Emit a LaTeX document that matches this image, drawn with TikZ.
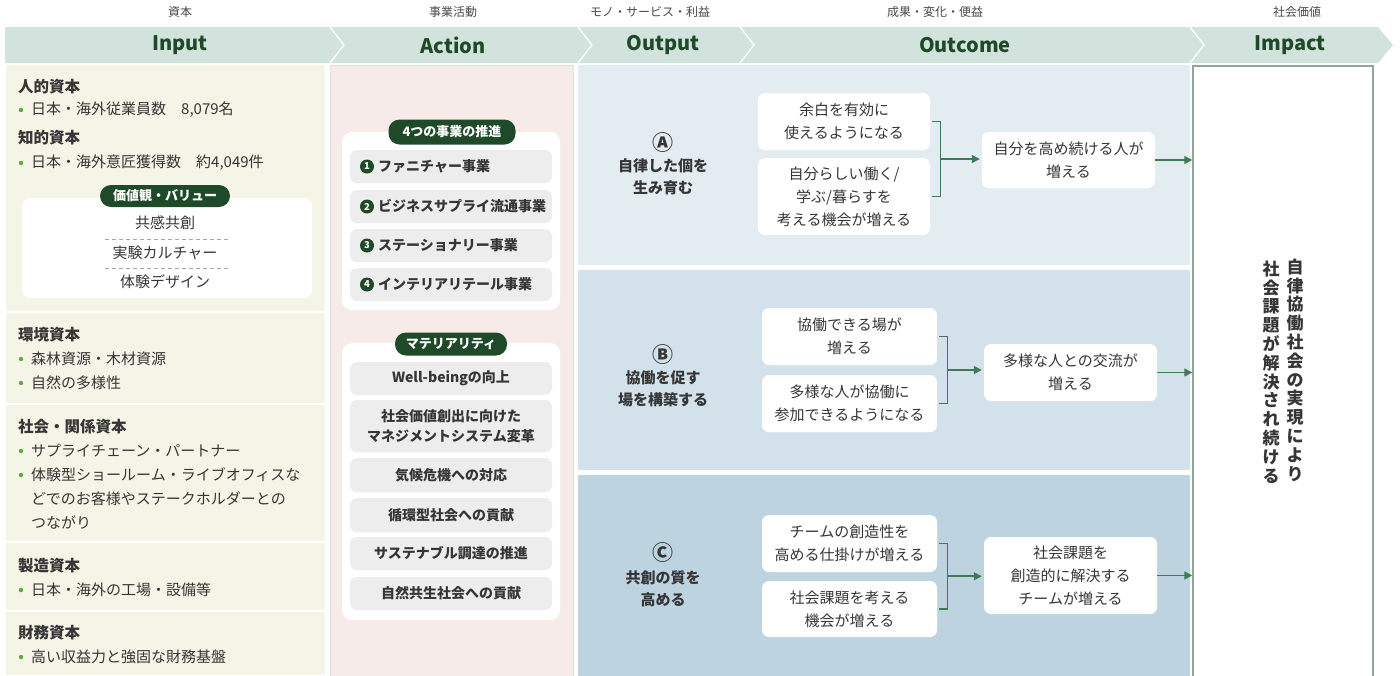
\documentclass[tikz,border=0pt]{standalone}
\usepackage{fontspec}
\setmainfont{Noto Sans CJK JP}
\usetikzlibrary{arrows.meta,calc}
\definecolor{hdrband}{HTML}{D2E3DD}
\definecolor{dgreen}{HTML}{1E4A2A}
\definecolor{agreen}{HTML}{3F7A55}
\definecolor{inbg}{HTML}{F4F4E7}
\definecolor{actbg}{HTML}{F6EBE9}
\definecolor{bandA}{HTML}{E3ECF0}
\definecolor{bandB}{HTML}{D3E2EA}
\definecolor{bandC}{HTML}{BDD4E0}
\definecolor{itemgray}{HTML}{EDEDED}
\definecolor{txt}{HTML}{363636}
\definecolor{bul}{HTML}{5DAA3F}
\definecolor{impbd}{HTML}{8FA596}
\tikzset{
  toplbl/.style={font=\fontsize{12}{14}\selectfont, text=txt!90, inner sep=0},
  hdr/.style={font=\fontsize{20}{22}\selectfont\bfseries, text=dgreen, inner sep=0},
  intitle/.style={anchor=west, font=\fontsize{15.5}{18}\selectfont\bfseries, text=txt, inner sep=0},
  initem/.style={anchor=west, font=\fontsize{15}{18}\selectfont, text=txt, inner sep=0},
  valtxt/.style={font=\fontsize{15}{18}\selectfont, text=txt, inner sep=0},
  pill/.style={fill=dgreen, rounded corners=11, text=white, font=\fontsize{13}{15}\selectfont\bfseries, inner sep=0},
  itembox/.style={fill=itemgray, rounded corners=7},
  acttxt/.style={font=\fontsize{14}{20}\selectfont\bfseries, text=txt, inner sep=0, align=center},
  numc/.style={circle, fill=dgreen, text=white, font=\fontsize{9.5}{9.5}\selectfont\bfseries, inner sep=0, minimum size=14},
  obox/.style={fill=white, rounded corners=7, align=center, font=\fontsize{15}{23}\selectfont, text=txt, inner sep=0},
  outlbl/.style={align=center, font=\fontsize{15}{22}\selectfont\bfseries, text=txt, inner sep=0},
  circl/.style={font=\fontsize{21}{22}\selectfont\bfseries, text=txt, inner sep=0},
  brk/.style={draw=agreen, line width=1.2},
  arr/.style={draw=agreen, line width=1.6, -{Triangle[length=8,width=8]}},
  vtext/.style={align=center, font=\fontsize{17}{18.8}\selectfont\bfseries, text=txt, inner sep=0},
}
\begin{document}
\begin{tikzpicture}[x=1pt,y=-1pt]
\useasboundingbox (0,0) rectangle (1400,675);
\fill[white] (0,0) rectangle (1400,675);
% top labels
\node[toplbl] (t1) at (180,12) {資本};
\node[toplbl] (t2) at (453,12) {事業活動};
\node[toplbl] (t3) at (650,12) {モノ・サービス・利益};
\node[toplbl] (t4) at (935,12) {成果・変化・便益};
\node[toplbl] (t5) at (1297,12) {社会価値};
% header band
\fill[hdrband] (5,27) -- (1378,27) -- (1393,45) -- (1378,63) -- (5,63) -- cycle;
\foreach \xx in {330,578,740,1190} {
  \draw[white, line width=1.3] (\xx,27) -- (\xx+14,45) -- (\xx,63);
}
\node[hdr] (h1) at (180,45) {Input};
\node[hdr] (h2) at (453,45) {Action};
\node[hdr] (h3) at (663,45) {Output};
\node[hdr] (h4) at (965,45) {Outcome};
\node[hdr] (h5) at (1290,45) {Impact};
% input column
\fill[inbg] (6,65) rectangle (325,675);
\foreach \yy in {312,404,542,611} { \draw[white, line width=2] (6,\yy) -- (325,\yy); }
\node[intitle] (i1) at (18,87) {人的資本};
\fill[bul] (21,110) circle (2.2);
\node[initem] (i1a) at (31,110) {日本・海外従業員数　8,079名};
\node[intitle] (i2) at (18,138) {知的資本};
\fill[bul] (21,163) circle (2.2);
\node[initem] (i2a) at (31,163) {日本・海外意匠獲得数　約4,049件};
\fill[white] (22,198) [rounded corners=8] rectangle (312,298);
\node[pill, minimum width=130, minimum height=22] (vp) at (165,196) {価値観・バリュー};
\node[valtxt] (v1) at (165,223) {共感共創};
\draw[gray!70, dash pattern=on 4pt off 3pt] (105,239) -- (228,239);
\node[valtxt] (v2) at (165,253) {実験カルチャー};
\draw[gray!70, dash pattern=on 4pt off 3pt] (105,268) -- (228,268);
\node[valtxt] (v3) at (165,282) {体験デザイン};
\node[intitle] (i3) at (18,335) {環境資本};
\fill[bul] (21,359) circle (2.2);
\node[initem] (i3a) at (31,359) {森林資源・木材資源};
\fill[bul] (21,383) circle (2.2);
\node[initem] (i3b) at (31,383) {自然の多様性};
\node[intitle] (i4) at (18,427) {社会・関係資本};
\fill[bul] (21,451) circle (2.2);
\node[initem] (i4a) at (31,451) {サプライチェーン・パートナー};
\fill[bul] (21,475) circle (2.2);
\node[initem] (i4b) at (31,475) {体験型ショールーム・ライブオフィスな};
\node[initem] (i4c) at (31,499) {どでのお客様やステークホルダーとの};
\node[initem] (i4d) at (31,523) {つながり};
\node[intitle] (i5) at (18,566) {製造資本};
\fill[bul] (21,590) circle (2.2);
\node[initem] (i5a) at (31,590) {日本・海外の工場・設備等};
\node[intitle] (i6) at (18,633) {財務資本};
\fill[bul] (21,657) circle (2.2);
\node[initem] (i6a) at (31,657) {高い収益力と強固な財務基盤};
% action column
\filldraw[fill=actbg, draw=gray!25] (330,65) rectangle (573,677);
\fill[white] (342,132) [rounded corners=10] rectangle (560,310);
\node[pill, minimum width=127, minimum height=25] (p1) at (452,132) {4つの事業の推進};
\foreach \ya/\yb in {150/183,190/223,229/262,268/301} { \fill[itembox] (350,\ya) rectangle (552,\yb); }
\node[numc] (n1) at (367,166.5) {1};
\node[acttxt, anchor=west] (a1t) at (378,166.5) {ファニチャー事業};
\node[numc] (n2) at (367,206.5) {2};
\node[acttxt, anchor=west] (a2t) at (378,206.5) {ビジネスサプライ流通事業};
\node[numc] (n3) at (367,245.5) {3};
\node[acttxt, anchor=west] (a3t) at (378,245.5) {ステーショナリー事業};
\node[numc] (n4) at (367,284.5) {4};
\node[acttxt, anchor=west] (a4t) at (378,284.5) {インテリアリテール事業};
\fill[white] (342,343) [rounded corners=10] rectangle (560,620);
\node[pill, minimum width=112, minimum height=23] (p2) at (451,344) {マテリアリティ};
\foreach \ya/\yb in {362/395,400/452,458/492,498/532,537/570,577/610} { \fill[itembox] (350,\ya) rectangle (552,\yb); }
\node[acttxt] (m1) at (451,378.5) {Well-beingの向上};
\node[acttxt] (m2) at (451,426) {社会価値創出に向けた\\マネジメントシステム変革};
\node[acttxt] (m3) at (451,475) {気候危機への対応};
\node[acttxt] (m4) at (451,515) {循環型社会への貢献};
\node[acttxt] (m5) at (451,553.5) {サステナブル調達の推進};
\node[acttxt] (m6) at (451,593.5) {自然共生社会への貢献};
% output / outcome bands
\fill[bandA] (578,65) rectangle (1190,265);
\fill[bandB] (578,270) rectangle (1190,470);
\fill[bandC] (578,475) rectangle (1190,677);
% impact box
\node[draw=impbd, line width=1.5, fill=white, minimum width=180, minimum height=614, inner sep=0] (imp) at (1283,373) {};
\node[vtext] (imp1) at (1295,370) {自\\律\\協\\働\\社\\会\\の\\実\\現\\に\\よ\\り};
\node[vtext] (imp2) at (1271,372) {社\\会\\課\\題\\が\\解\\決\\さ\\れ\\続\\け\\る};
% A
\node[circl] (oAl) at (663,143) {Ⓐ};
\node[outlbl] (oA) at (663,177) {自律した個を\\生み育む};
\node[obox, minimum width=172, minimum height=57] (a1) at (844,121.5) {余白を有効に\\使えるようになる};
\node[obox, minimum width=172, minimum height=77] (a2) at (844,196.5) {自分らしい働く/\\学ぶ/暮らすを\\考える機会が増える};
\node[obox, minimum width=173, minimum height=56] (a3) at (1068.5,160) {自分を高め続ける人が\\増える};
\draw[brk] ([xshift=2]a1.east) -- ([xshift=10]a1.east) -- ([xshift=10]a2.east) -- ([xshift=2]a2.east);
\coordinate (aj) at ($([xshift=10]a1.east)!0.5!([xshift=10]a2.east)$);
\draw[arr, shorten >=2] (aj) -- (aj -| a3.west);
\draw[arr] (a3.east) -- (a3.east -| imp.west);
% B
\node[circl] (oBl) at (663,355) {Ⓑ};
\node[outlbl] (oB) at (663,389) {協働を促す\\場を構築する};
\node[obox, minimum width=175, minimum height=57] (b1) at (849.5,336.5) {協働できる場が\\増える};
\node[obox, minimum width=175, minimum height=57] (b2) at (849.5,403.5) {多様な人が協働に\\参加できるようになる};
\node[obox, minimum width=173, minimum height=57] (b3) at (1070.5,372.5) {多様な人との交流が\\増える};
\draw[brk] ([xshift=2]b1.east) -- ([xshift=10]b1.east) -- ([xshift=10]b2.east) -- ([xshift=2]b2.east);
\coordinate (bj) at ($([xshift=10]b1.east)!0.5!([xshift=10]b2.east)$);
\draw[arr, shorten >=2] (bj) -- (bj -| b3.west);
\draw[arr] (b3.east) -- (b3.east -| imp.west);
% C
\node[circl] (oCl) at (663,553) {Ⓒ};
\node[outlbl] (oC) at (663,589) {共創の質を\\高める};
\node[obox, minimum width=175, minimum height=57] (c1) at (849.5,543.5) {チームの創造性を\\高める仕掛けが増える};
\node[obox, minimum width=175, minimum height=56] (c2) at (849.5,609) {社会課題を考える\\機会が増える};
\node[obox, minimum width=173, minimum height=77] (c3) at (1070.5,575.5) {社会課題を\\創造的に解決する\\チームが増える};
\draw[brk] ([xshift=2]c1.east) -- ([xshift=10]c1.east) -- ([xshift=10]c2.east) -- ([xshift=2]c2.east);
\coordinate (cj) at ($([xshift=10]c1.east)!0.5!([xshift=10]c2.east)$);
\draw[arr, shorten >=2] (cj) -- (cj -| c3.west);
\draw[arr] (c3.east) -- (c3.east -| imp.west);
\end{tikzpicture}
\end{document}
